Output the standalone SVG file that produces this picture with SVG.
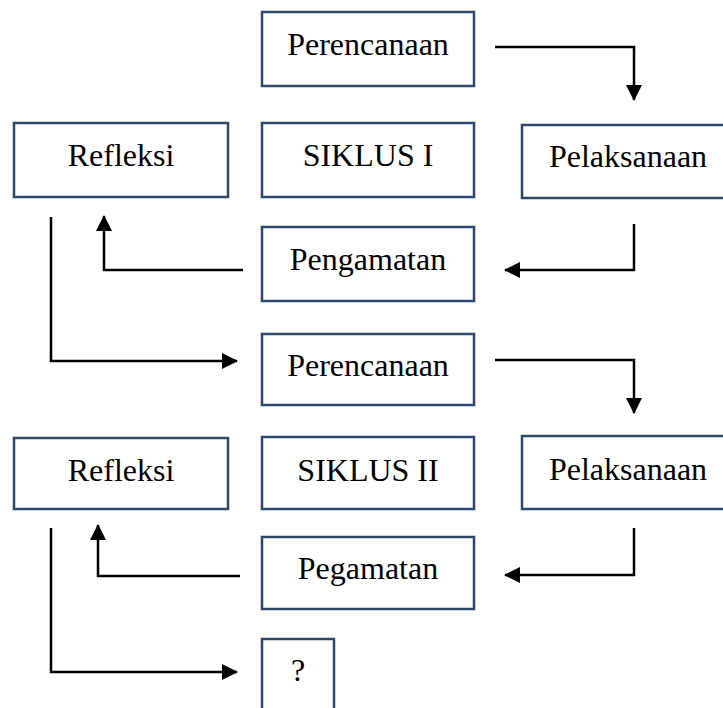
<svg xmlns="http://www.w3.org/2000/svg" width="723" height="708" viewBox="0 0 723 708">
<style>
.box{fill:#fff;stroke:#2f4769;stroke-width:2.5}
.lbl{font-family:"Liberation Serif","Times New Roman",serif;font-size:32px;fill:#000;text-anchor:middle}
.con{fill:none;stroke:#000;stroke-width:2.5}
</style>
<defs>
<marker id="ah" markerUnits="userSpaceOnUse" markerWidth="16" markerHeight="16" refX="15" refY="8" orient="auto">
<path d="M0,0 L16,8 L0,16 z" fill="#000"/>
</marker>
</defs>
<rect width="723" height="708" fill="#fff"/>
<g id="connectors">
<path class="con" d="M495,47 H634 V100" marker-end="url(#ah)"/>
<path class="con" d="M634,224 V270 H505" marker-end="url(#ah)"/>
<path class="con" d="M243,270 H104 V216" marker-end="url(#ah)"/>
<path class="con" d="M51,217 V361 H237" marker-end="url(#ah)"/>
<path class="con" d="M495,360 H634 V413" marker-end="url(#ah)"/>
<path class="con" d="M634,528 V575 H505" marker-end="url(#ah)"/>
<path class="con" d="M240,576 H98 V525" marker-end="url(#ah)"/>
<path class="con" d="M51,528 V672 H237" marker-end="url(#ah)"/>
</g>
<g id="perencanaan1"><rect class="box" x="262" y="12" width="212" height="74"/><text class="lbl" x="368" y="55">Perencanaan</text></g>
<g id="refleksi1"><rect class="box" x="14" y="123" width="214" height="74"/><text class="lbl" x="121" y="166">Refleksi</text></g>
<g id="siklus1"><rect class="box" x="262" y="123" width="212" height="74"/><text class="lbl" x="368" y="166">SIKLUS I</text></g>
<g id="pelaksanaan1"><rect class="box" x="522" y="125" width="212" height="73"/><text class="lbl" x="628" y="167">Pelaksanaan</text></g>
<g id="pengamatan1"><rect class="box" x="262" y="227" width="212" height="74"/><text class="lbl" x="368" y="270">Pengamatan</text></g>
<g id="perencanaan2"><rect class="box" x="262" y="334" width="212" height="71"/><text class="lbl" x="368" y="376">Perencanaan</text></g>
<g id="refleksi2"><rect class="box" x="14" y="438" width="214" height="71"/><text class="lbl" x="121" y="481">Refleksi</text></g>
<g id="siklus2"><rect class="box" x="262" y="437" width="212" height="72"/><text class="lbl" x="368" y="481">SIKLUS II</text></g>
<g id="pelaksanaan2"><rect class="box" x="522" y="436" width="212" height="73"/><text class="lbl" x="628" y="480">Pelaksanaan</text></g>
<g id="pegamatan2"><rect class="box" x="262" y="537" width="212" height="72"/><text class="lbl" x="368" y="579">Pegamatan</text></g>
<g id="question"><rect class="box" x="262" y="639" width="72" height="74"/><text class="lbl" x="298" y="681">?</text></g>
</svg>
